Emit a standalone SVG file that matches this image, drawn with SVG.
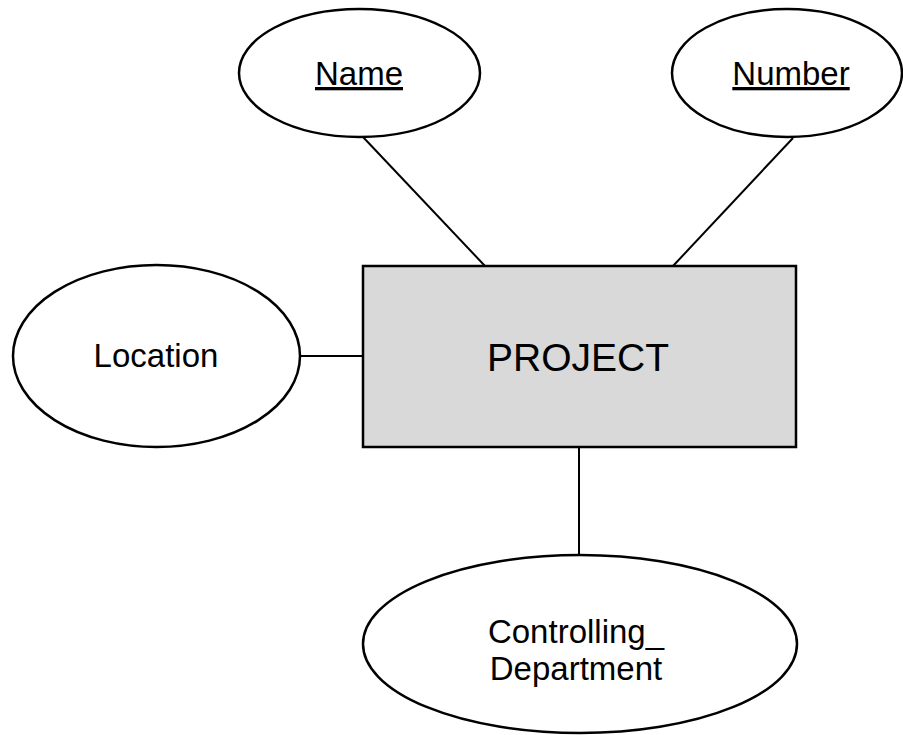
<svg xmlns="http://www.w3.org/2000/svg" width="903" height="735" viewBox="0 0 903 735">
  <style>
    .attr { fill: #ffffff; stroke: #000000; stroke-width: 2.5; }
    .ent { fill: #d9d9d9; stroke: #000000; stroke-width: 2.5; }
    .conn line { stroke: #000000; stroke-width: 2; }
    text { font-family: "Liberation Sans", Arial, sans-serif; fill: #000000; text-anchor: middle; }
    .lbl { font-size: 33px; }
    .key { text-decoration: underline; }
    .big { font-size: 39px; }
  </style>
  <rect width="903" height="735" fill="#ffffff"/>
  <g id="connectors" class="conn">
    <line x1="363" y1="137" x2="485" y2="266"/>
    <line x1="793" y1="138" x2="673" y2="266"/>
    <line x1="300" y1="356" x2="363" y2="356"/>
    <line x1="579" y1="447" x2="579" y2="555"/>
  </g>
  <g id="name">
    <ellipse class="attr" cx="359.5" cy="73" rx="120.5" ry="64"/>
    <text class="lbl key" x="359" y="85">Name</text>
  </g>
  <g id="number">
    <ellipse class="attr" cx="787" cy="73" rx="115" ry="64"/>
    <text class="lbl key" x="791" y="85">Number</text>
  </g>
  <g id="location">
    <ellipse class="attr" cx="156.5" cy="356" rx="143.5" ry="91"/>
    <text class="lbl" x="156" y="367">Location</text>
  </g>
  <g id="project">
    <rect class="ent" x="363" y="266" width="433" height="181"/>
    <text class="big" x="578" y="371">PROJECT</text>
  </g>
  <g id="controlling_department">
    <ellipse class="attr" cx="580" cy="644" rx="217" ry="89"/>
    <text class="lbl" x="576" y="643">Controlling_</text>
    <text class="lbl" x="576" y="680">Department</text>
  </g>
</svg>
